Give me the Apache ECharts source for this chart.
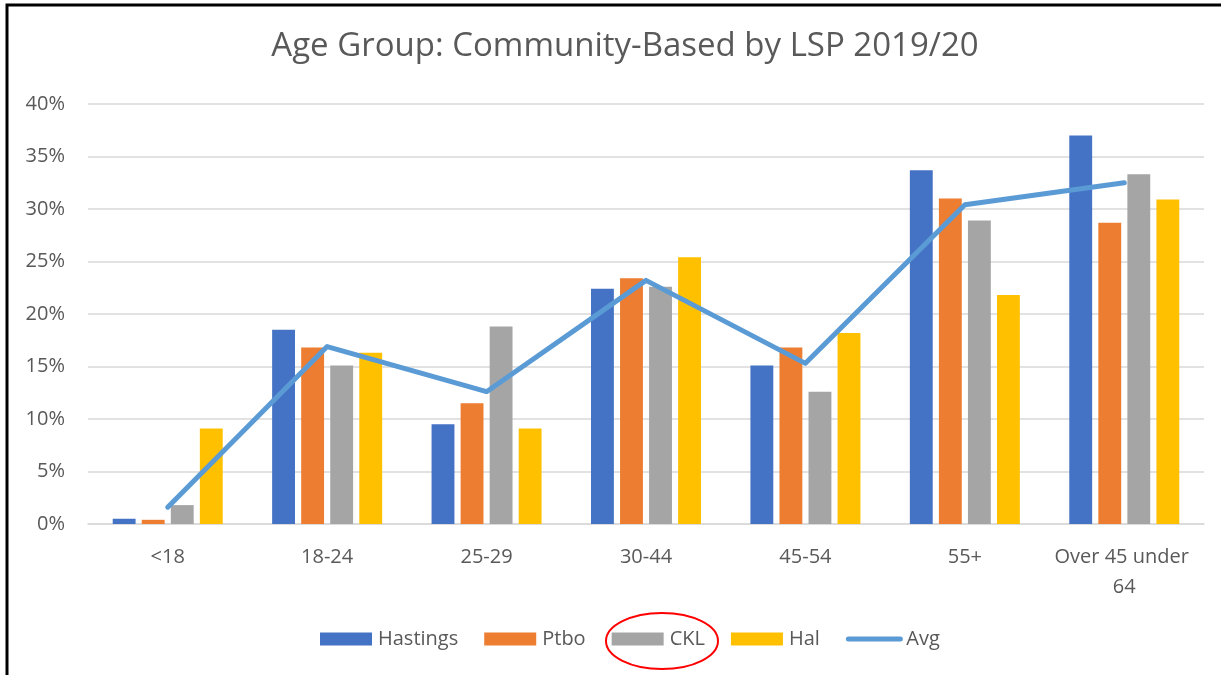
<!DOCTYPE html>
<html>
<head>
<meta charset="utf-8">
<title>Age Group: Community-Based by LSP 2019/20</title>
<script src="https://cdn.jsdelivr.net/npm/echarts@6/dist/echarts.min.js"></script>
<style>
  html, body { margin: 0; padding: 0; background: #fff; }
  #chart { width: 1226px; height: 675px; }
</style>
</head>
<body>
<div id="chart"></div>
<script>
// 年龄组数据（百分比）
var categories = ['<18', '18-24', '25-29', '30-44', '45-54', '55+', 'Over 45 under 64'];
var hastings = [0.5, 18.5, 9.5, 22.4, 15.1, 33.7, 37.0];
var ptbo = [0.4, 16.8, 11.5, 23.4, 16.8, 31.0, 28.7];
var ckl = [1.8, 15.1, 18.8, 22.6, 12.6, 28.9, 33.3];
var hal = [9.1, 16.3, 9.1, 25.4, 18.2, 21.8, 30.9];
var avg = [1.6, 16.9, 12.6, 23.2, 15.3, 30.4, 32.5];
var yTicks = { min: 0, max: 40, step: 5 };

var textColor = '#595959';
var fontName = 'Open Sans';

var chart = echarts.init(document.getElementById('chart'));

function barSeries(name, data, color) {
  return {
    name: name,
    type: 'bar',
    data: data,
    barGap: '27%',
    barCategoryGap: '31%',
    itemStyle: { color: color }
  };
}

var option = {
  backgroundColor: '#fff',
  animation: false,
  title: {
    text: 'Age Group: Community-Based by LSP 2019/20',
    left: 620,
    textAlign: 'center',
    top: 25,
    textStyle: {
      fontFamily: fontName,
      fontSize: 33,
      fontWeight: 'normal',
      color: textColor
    }
  },
  legend: {
    top: 624,
    left: 315,
    itemWidth: 52,
    itemHeight: 13,
    itemGap: 26,
    textStyle: { fontFamily: fontName, fontSize: 20, color: textColor, padding: [0, 0, 0, 1] },
    data: [
      { name: 'Hastings', icon: 'rect' },
      { name: 'Ptbo', icon: 'rect' },
      { name: 'CKL', icon: 'rect' },
      { name: 'Hal', icon: 'rect' },
      { name: 'Avg', itemStyle: { opacity: 0 }, lineStyle: { width: 5, cap: 'round' } }
    ]
  },
  grid: {
    left: 88,
    right: 22,
    top: 104,
    bottom: 151
  },
  xAxis: {
    type: 'category',
    data: categories,
    axisLine: { lineStyle: { color: '#D9D9D9', width: 1.5 } },
    axisTick: { show: false },
    axisLabel: {
      fontFamily: fontName,
      fontSize: 20,
      color: textColor,
      margin: 18,
      lineHeight: 30,
      width: 150,
      overflow: 'break',
      interval: 0
    }
  },
  yAxis: {
    type: 'value',
    min: yTicks.min,
    max: yTicks.max,
    interval: yTicks.step,
    axisLine: { show: false },
    axisTick: { show: false },
    splitLine: { lineStyle: { color: '#D9D9D9', width: 1.5 } },
    axisLabel: {
      formatter: '{value}%',
      fontFamily: fontName,
      fontSize: 20,
      color: textColor,
      margin: 23
    }
  },
  series: [
    barSeries('Hastings', hastings, '#4472C4'),
    barSeries('Ptbo', ptbo, '#ED7D31'),
    barSeries('CKL', ckl, '#A5A5A5'),
    barSeries('Hal', hal, '#FFC000'),
    {
      name: 'Avg',
      type: 'line',
      data: avg,
      symbol: 'none',
      lineStyle: { color: '#5B9BD5', width: 5, cap: 'round', join: 'round' },
      itemStyle: { color: '#5B9BD5' },
      z: 5
    }
  ],
  graphic: [
    // 外框
    {
      type: 'polyline',
      shape: { points: [[7, 676], [7, 5], [1221, 5]] },
      style: { stroke: '#000', lineWidth: 3, fill: null }
    },
    // 红色圈注 CKL
    {
      type: 'ellipse',
      shape: { cx: 662, cy: 641, rx: 56, ry: 28 },
      style: { stroke: '#FF0000', lineWidth: 2, fill: null },
      z: 100
    }
  ]
};

chart.setOption(option);
</script>
</body>
</html>
